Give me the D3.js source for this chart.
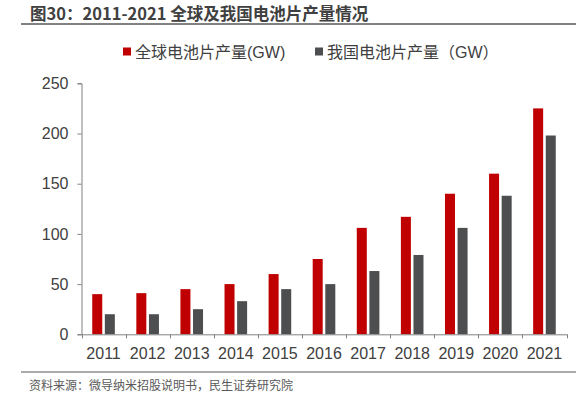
<!DOCTYPE html>
<html><head><meta charset="utf-8">
<script src="https://cdn.jsdelivr.net/npm/d3@7"></script>
<style>body{margin:0;background:#fff}svg{display:block}</style>
</head><body>
<script>
const years = ["2011","2012","2013","2014","2015","2016","2017","2018","2019","2020","2021"];
const globalOutput = [40,41,45,50,60,75,106,117,140,160,225];
const chinaOutput = [20,20,25,33,45,50,63,79,106,138,198];
const yTicks = [0,50,100,150,200,250];
const seriesNames = ["全球电池片产量(GW)","我国电池片产量（GW）"];
const colors = ["#C00000","#4D4E50"];
const titleText = "图30：2011-2021 全球及我国电池片产量情况";
const sourceText = "资料来源：微导纳米招股说明书，民生证券研究院";

const W=576,H=399;
const svg=d3.select("body").append("svg").attr("width",W).attr("height",H);
const font="'Liberation Sans', Arial, 'Noto Sans CJK SC', sans-serif";
const cjk="'Noto Sans CJK SC', sans-serif";

svg.append("text").attr("x",30).attr("y",20).attr("font-family",cjk).attr("font-weight","bold")
  .attr("font-size",16.5).attr("fill","#404040").text(titleText);
svg.append("line").attr("x1",21).attr("x2",576).attr("y1",24).attr("y2",24).attr("stroke","#595959").attr("stroke-width",1.5);

const x=d3.scaleBand().domain(years).range([81.5,566.5]);
const y=d3.scaleLinear().domain([0,250]).range([334.3,83.3]);

// bars
const bw=10, gap=2.6;
const g=svg.append("g");
[globalOutput,chinaOutput].forEach((arr,si)=>{
  g.selectAll(null).data(arr).enter().append("rect")
   .attr("x",(d,i)=>x(years[i])+x.bandwidth()/2 - bw - gap/2 + si*(bw+gap))
   .attr("width",bw)
   .attr("y",d=>y(d)).attr("height",d=>y(0)-y(d))
   .attr("fill",colors[si]);
});

// y axis
const ya=svg.append("g").attr("transform","translate(81.5,0)")
  .call(d3.axisLeft(y).tickValues(yTicks).tickSize(4).tickPadding(9));
ya.select(".domain").attr("stroke","#808080");
ya.selectAll(".tick line").attr("stroke","#808080");
ya.selectAll("text").attr("font-family",font).attr("font-size",16).attr("fill","#404040");

// x axis
const xa=svg.append("g").attr("transform","translate(0,334.3)")
  .call(d3.axisBottom(x).tickSize(0).tickPadding(13));
xa.select(".domain").attr("stroke","#808080");
xa.selectAll("text").attr("font-family",font).attr("font-size",16).attr("fill","#404040");
const bounds=years.map(d=>x(d)).concat([x.range()[1]]);
xa.selectAll(".bt").data(bounds).enter().append("line").attr("class","bt")
  .attr("x1",d=>Math.round(d)+0.5).attr("x2",d=>Math.round(d)+0.5).attr("y1",0).attr("y2",4).attr("stroke","#808080");

// legend
const leg=svg.append("g");
const legX=[123,315];
seriesNames.forEach((n,i)=>{
  leg.append("rect").attr("x",legX[i]).attr("y",47.5).attr("width",8).attr("height",8).attr("fill",colors[i]);
  leg.append("text").attr("x",legX[i]+12).attr("y",58).attr("font-family",font).attr("font-size",16)
    .attr("fill","#404040").text(n);
});

// footer
svg.append("line").attr("x1",21).attr("x2",576).attr("y1",372).attr("y2",372).attr("stroke","#595959").attr("stroke-width",1.2);
svg.append("text").attr("x",29).attr("y",390).attr("font-family",cjk).attr("font-size",12)
  .attr("fill","#595959").text(sourceText);
</script>
</body></html>
